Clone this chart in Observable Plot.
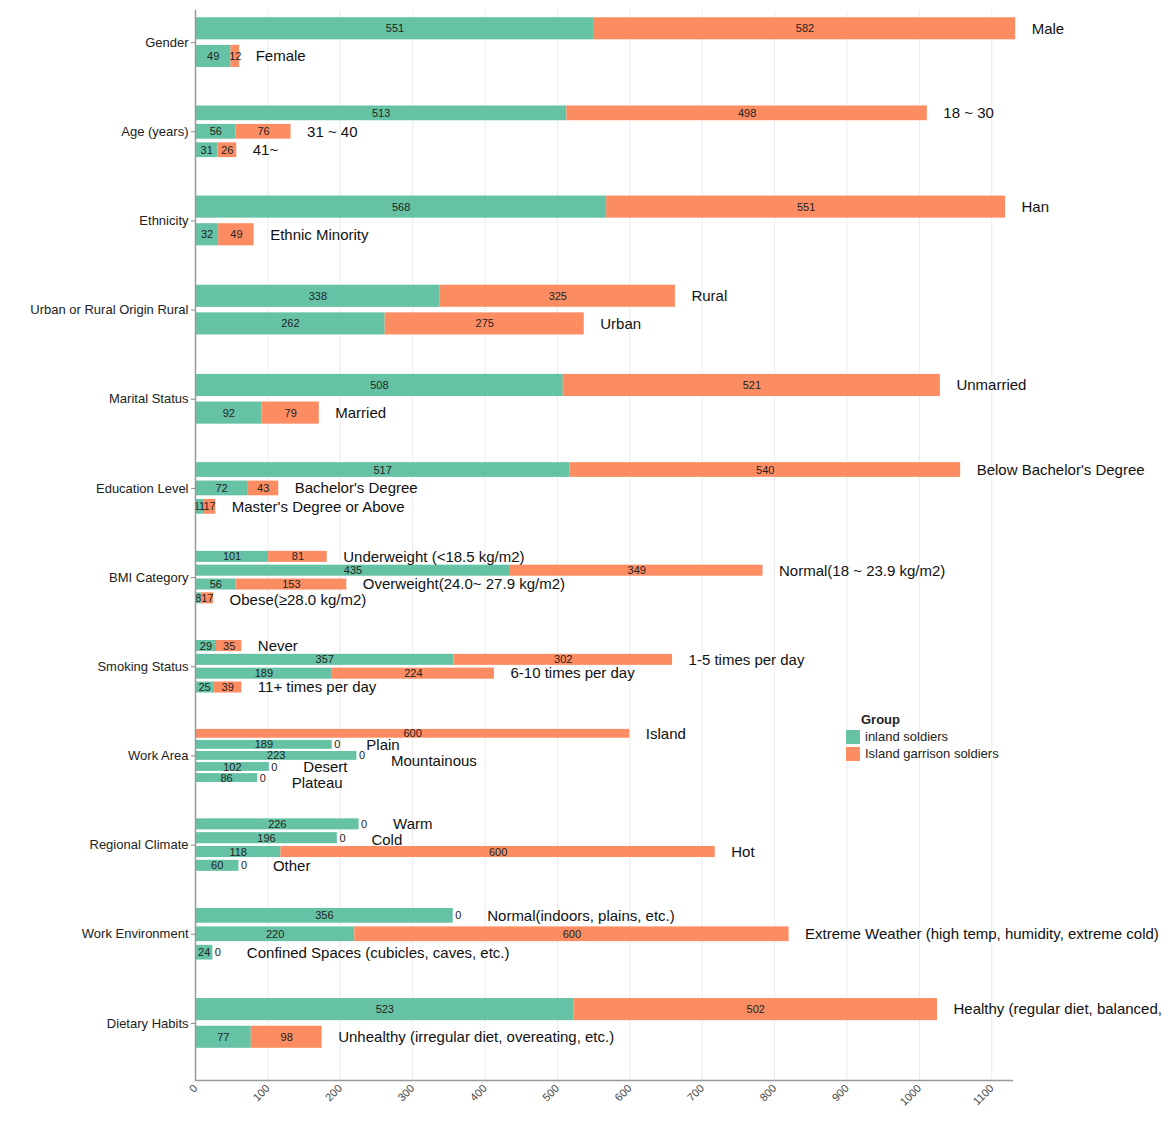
<!DOCTYPE html>
<html>
<head>
<meta charset="utf-8">
<script src="https://cdn.jsdelivr.net/npm/d3@7"></script>
<script src="https://cdn.jsdelivr.net/npm/@observablehq/plot@0.6"></script>
<style>
  body { margin: 0; background: #fff; font-family: "Liberation Sans", Arial, sans-serif; }
  #wrap { position: relative; width: 1170px; height: 1121px; }
  #legend { position: absolute; left: 846px; top: 711px; font-size: 13px; color: #222; line-height: 17px; }
  #legend .title { font-weight: bold; margin-left: 15px; }
  #legend .row { display: flex; align-items: center; height: 17px; }
  #legend .sw { display: inline-block; width: 14px; height: 14px; margin-right: 5px; }
</style>
</head>
<body>
<div id="wrap">
  <div id="chart"></div>
  <div id="legend"></div>
</div>
<script>
// ---- data ----
const groups = [
  "Gender", "Age (years)", "Ethnicity", "Urban or Rural Origin Rural", "Marital Status",
  "Education Level", "BMI Category", "Smoking Status", "Work Area", "Regional Climate",
  "Work Environment", "Dietary Habits"
];
const subcategories = [
  ["Male", "Female"],
  ["18 ~ 30", "31 ~ 40", "41~"],
  ["Han", "Ethnic Minority"],
  ["Rural", "Urban"],
  ["Unmarried", "Married"],
  ["Below Bachelor's Degree", "Bachelor's Degree", "Master's Degree or Above"],
  ["Underweight (<18.5 kg/m2)", "Normal(18 ~ 23.9 kg/m2)", "Overweight(24.0~ 27.9 kg/m2)", "Obese(≥28.0 kg/m2)"],
  ["Never", "1-5 times per day", "6-10 times per day", "11+ times per day"],
  ["Island", "Plain", "Mountainous", "Desert", "Plateau"],
  ["Warm", "Cold", "Hot", "Other"],
  ["Normal(indoors, plains, etc.)", "Extreme Weather (high temp, humidity, extreme cold)", "Confined Spaces (cubicles, caves, etc.)"],
  ["Healthy (regular diet, balanced,", "Unhealthy (irregular diet, overeating, etc.)"]
];
const inlandValues = [
  [551, 49],
  [513, 56, 31],
  [568, 32],
  [338, 262],
  [508, 92],
  [517, 72, 11],
  [101, 435, 56, 8],
  [29, 357, 189, 25],
  [0, 189, 223, 102, 86],
  [226, 196, 118, 60],
  [356, 220, 24],
  [523, 77]
];
const islandValues = [
  [582, 12],
  [498, 76, 26],
  [551, 49],
  [325, 275],
  [521, 79],
  [540, 43, 17],
  [81, 349, 153, 17],
  [35, 302, 224, 39],
  [600, 0, 0, 0, 0],
  [0, 0, 600, 0],
  [0, 600, 0],
  [502, 98]
];
const seriesNames = ["inland soldiers", "Island garrison soldiers"];
const seriesColors = ["#66c2a5", "#fc8d62"];
const xTicks = [0, 100, 200, 300, 400, 500, 600, 700, 800, 900, 1000, 1100];

// ---- layout settings ----
const W = 1170, H = 1121, mL = 195, mR = 157, mT = 10, mB = 41;
const xMax = 1130;
const yMin = 0.14, yMax = groups.length + 0.14;
const pxPerX = (W - mL - mR) / xMax;
const pxPerY = (H - mT - mB) / (yMax - yMin);
const pad = 0.19;       // share of each group band left empty above/below
const fillShare = 0.8;  // share of each slot filled by the bar
const labelFont = 15;
const dxPlain = 16, dxAfterZero = 34;

// ---- derived rows ----
const rows = [];
const segments = [];
groups.forEach((g, gi) => {
  const subs = subcategories[gi];
  const n = subs.length;
  const slot = (1 - 2 * pad) / n;
  const placed = [];
  subs.forEach((s, i) => {
    const a = inlandValues[gi][i];
    const b = islandValues[gi][i];
    const y1 = gi + pad + slot * i + slot * (1 - fillShare) / 2;
    const y2 = y1 + slot * fillShare;
    const ym = (y1 + y2) / 2;
    const hasZero = a > 0 && b === 0;
    const dx = hasZero ? dxAfterZero : dxPlain;
    // simple label repel: push a label down if it collides with an earlier one
    const xs = (a + b) * pxPerX + dx;
    const xe = xs + s.length * labelFont * 0.5;
    let ly = ym;
    const minGap = 16 / pxPerY;
    placed.forEach(p => {
      if (xs < p.xe && xe > p.xs && Math.abs(ly - p.ly) < minGap) ly = p.ly + minGap;
    });
    placed.push({xs, xe, ly});
    rows.push({group: g, sub: s, total: a + b, dx, y1, y2, ym, ly});
    segments.push({series: seriesNames[0], value: a, x1: 0, x2: a, y1, y2, ym});
    segments.push({series: seriesNames[1], value: b, x1: a, x2: a + b, y1, y2, ym});
  });
});

const chart = Plot.plot({
  width: W,
  height: H,
  marginLeft: mL,
  marginRight: mR,
  marginTop: mT,
  marginBottom: mB,
  style: {fontFamily: '"Liberation Sans", Arial, sans-serif', background: "#fff", overflow: "visible"},
  x: {domain: [0, xMax]},
  y: {domain: [yMin, yMax], reverse: true},
  color: {domain: seriesNames, range: seriesColors},
  marks: [
    Plot.gridX(xTicks, {stroke: "#e6e6e6", strokeOpacity: 1, strokeWidth: 0.8}),
    Plot.rect(segments.filter(d => d.value > 0), {x1: "x1", x2: "x2", y1: "y1", y2: "y2", fill: "series"}),
    Plot.text(segments.filter(d => d.value > 0), {
      x: d => (d.x1 + d.x2) / 2, y: "ym", text: d => String(d.value),
      fontSize: 11, fill: "#222"
    }),
    Plot.text(segments.filter(d => d.series === seriesNames[1] && d.value === 0), {
      x: "x2", y: "ym", text: d => String(d.value), textAnchor: "start", dx: 2,
      fontSize: 11, fill: "#222"
    }),
    Plot.text(rows.filter(d => d.dx === dxPlain), {
      x: "total", y: "ly", text: "sub", textAnchor: "start", dx: dxPlain,
      fontSize: labelFont, fill: "#111"
    }),
    Plot.text(rows.filter(d => d.dx === dxAfterZero), {
      x: "total", y: "ly", text: "sub", textAnchor: "start", dx: dxAfterZero,
      fontSize: labelFont, fill: "#111"
    }),
    Plot.axisY(groups.map((g, i) => i + 0.5), {
      tickFormat: v => groups[Math.floor(v)], tickSize: 4, tickPadding: 3,
      fontSize: 13, fill: "#222", stroke: "#888", label: null
    }),
    Plot.axisX(xTicks, {
      tickFormat: d => String(d), tickRotate: -45, tickSize: 0, tickPadding: 6,
      fontSize: 11, fill: "#444", label: null
    }),
    Plot.ruleX([0], {stroke: "#999", strokeWidth: 1.5}),
    Plot.ruleY([yMax], {stroke: "#999", strokeWidth: 1.5})
  ]
});
document.getElementById("chart").appendChild(chart);

// ---- legend ----
const legend = document.getElementById("legend");
const title = document.createElement("div");
title.className = "title";
title.textContent = "Group";
legend.appendChild(title);
seriesNames.forEach((name, i) => {
  const row = document.createElement("div");
  row.className = "row";
  const sw = document.createElement("span");
  sw.className = "sw";
  sw.style.background = seriesColors[i];
  const label = document.createElement("span");
  label.textContent = name;
  row.appendChild(sw);
  row.appendChild(label);
  legend.appendChild(row);
});
</script>
</body>
</html>
